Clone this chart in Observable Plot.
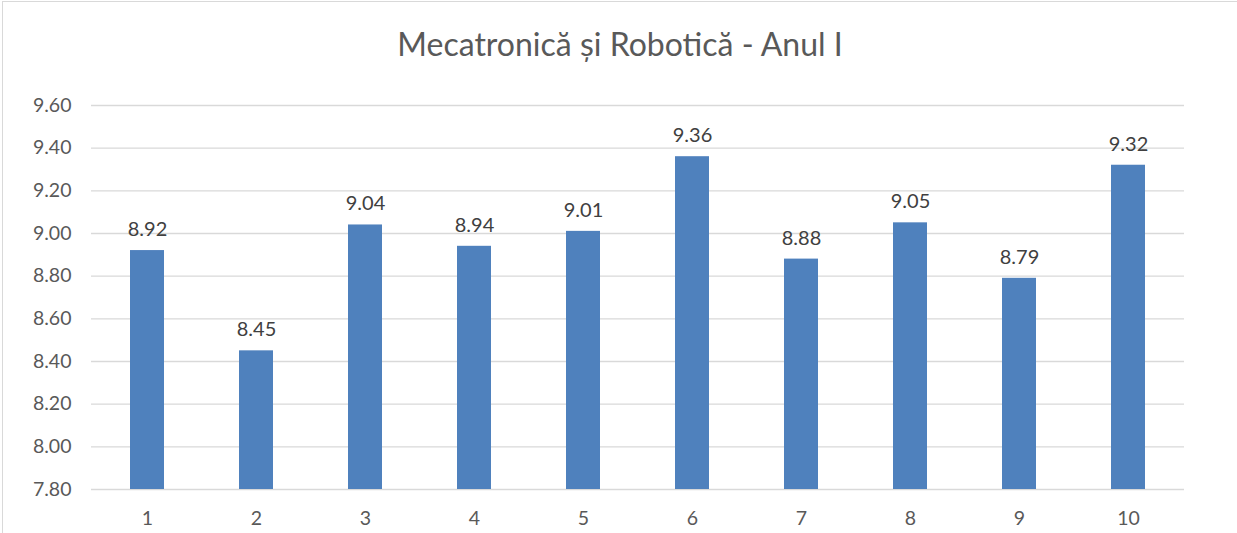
<!DOCTYPE html>
<html>
<head>
<meta charset="utf-8">
<script src="https://cdn.jsdelivr.net/npm/d3@7"></script>
<script src="https://cdn.jsdelivr.net/npm/@observablehq/plot@0.6"></script>
<style>
  html, body { margin: 0; padding: 0; background: #fff; }
  #wrap { position: relative; width: 1237px; height: 533px; overflow: hidden; }
  #border { position: absolute; left: 2px; top: 1px; width: 1240px; height: 540px; border-left: 1px solid #d9d9d9; border-top: 1px solid #d9d9d9; pointer-events: none; }
</style>
</head>
<body>
<div id="wrap"><div id="border"></div></div>
<script>
const title = "Mecatronică și Robotică - Anul I";
const categories = ["1", "2", "3", "4", "5", "6", "7", "8", "9", "10"];
const values = [8.92, 8.45, 9.04, 8.94, 9.01, 9.36, 8.88, 9.05, 8.79, 9.32];
const yTicks = [7.8, 8.0, 8.2, 8.4, 8.6, 8.8, 9.0, 9.2, 9.4, 9.6];

const data = categories.map((c, i) => ({cat: c, v: values[i]}));
const font = "Lato, 'Open Sans', sans-serif";

const chart = Plot.plot({
  width: 1237,
  height: 533,
  marginLeft: 91,
  marginRight: 53,
  marginTop: 105,
  marginBottom: 44,
  style: {fontFamily: font, fontSize: "19.5px", color: "#595959", background: "transparent"},
  x: {domain: categories, paddingInner: 0.69, paddingOuter: 0.345, label: null, tickSize: 0, tickPadding: 22},
  y: {domain: [7.8, 9.6], ticks: yTicks, tickFormat: d3.format(".2f"), label: null, tickSize: 0, tickPadding: 20},
  marks: [
    Plot.gridY(yTicks, {stroke: "#d9d9d9", strokeOpacity: 1, strokeWidth: 1.3}),
    Plot.barY(data, {x: "cat", y1: () => 7.8, y2: "v", fill: "#4f81bd"}),
    Plot.text(data, {x: "cat", y: "v", text: d => d3.format(".2f")(d.v), dy: -21, fill: "#404040", fontSize: 20}),
    Plot.text([title], {frameAnchor: "top", lineAnchor: "middle", dy: -60, dx: -18, fontSize: 32, fill: "#595959"})
  ]
});
document.getElementById("wrap").appendChild(chart);
chart.style.position = "absolute";
chart.style.left = "0";
chart.style.top = "0";
</script>
</body>
</html>
